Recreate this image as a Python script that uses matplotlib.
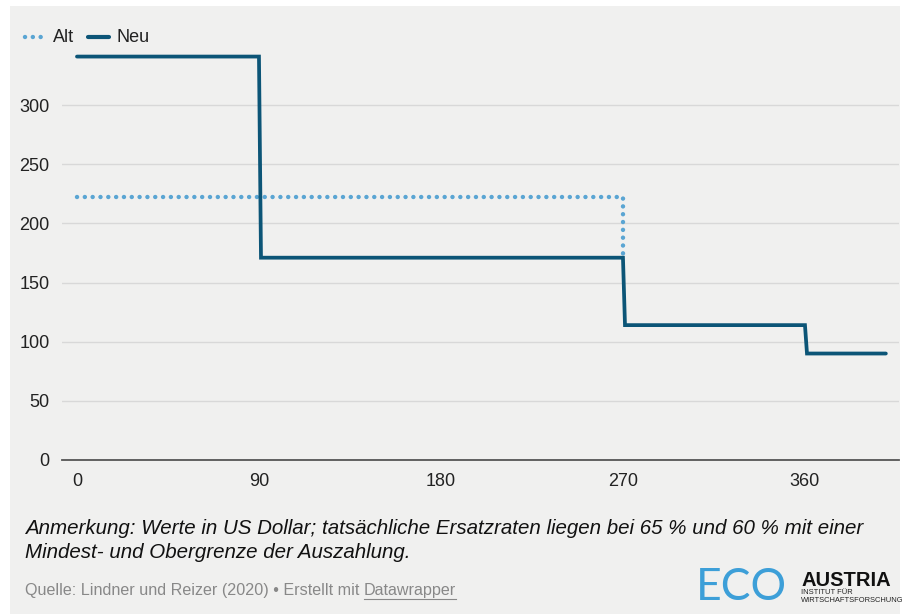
import matplotlib
matplotlib.use("Agg")
from matplotlib import pyplot as plt
from matplotlib.patches import Rectangle
from matplotlib.lines import Line2D

plt.rcParams['font.family'] = ['Liberation Sans', 'DejaVu Sans']

# Tage / Auszahlung
neu_x = [0, 90, 91, 270, 271, 360, 361, 400]
neu_y = [341, 341, 171, 171, 114, 114, 90, 90]
alt_x = [0, 270, 270]
alt_y = [222, 222, 171]
x_ticks = [0, 90, 180, 270, 360]
y_ticks = [0, 50, 100, 150, 200, 250, 300]

BG = '#f0f0ef'
NEU = '#0c5577'
ALT = '#5aa5d3'

fig = plt.figure(figsize=(9.02, 6.14), dpi=100, facecolor='white')
fig.patches.append(Rectangle((10 / 902, 0), 890 / 902, 608 / 614,
                             transform=fig.transFigure, facecolor=BG,
                             edgecolor='none', zorder=-10))

ax = fig.add_axes([62 / 902, 1 - 460 / 614, 837 / 902, 420 / 614])
ax.set_facecolor(BG)
ax.patch.set_alpha(0)

ax.plot(alt_x, alt_y, color=ALT, lw=3.2, linestyle=(0, (0.01, 1.75)),
        dash_capstyle='round', zorder=3)
ax.plot(neu_x, neu_y, color=NEU, lw=2.7, solid_capstyle='round',
        solid_joinstyle='miter', zorder=4)

ax.set_xlim(-7.4, 406.5)
ax.set_ylim(0, 355)
ax.set_xticks(x_ticks)
ax.set_yticks(y_ticks)
ax.tick_params(axis='both', length=0, labelsize=13, colors='#222222')
ax.tick_params(axis='x', pad=9)
ax.tick_params(axis='y', pad=9)
for lab in ax.get_yticklabels():
    lab.set_horizontalalignment('right')
ax.grid(axis='y', color='#d8d8d8', lw=1)
ax.set_axisbelow(True)
for s in ['top', 'right', 'left']:
    ax.spines[s].set_visible(False)
ax.spines['bottom'].set_color('#555555')
ax.spines['bottom'].set_linewidth(1.3)
ax.spines['bottom'].set_zorder(5)

# Legende
fig.add_artist(Line2D([25 / 902, 44 / 902], [1 - 37 / 614] * 2, color=ALT, lw=3.2,
                      linestyle=(0, (0.01, 1.75)), dash_capstyle='round'))
fig.text(53 / 902, 1 - 37 / 614, 'Alt', fontsize=13, va='center', color='#222222')
fig.add_artist(Line2D([88 / 902, 109 / 902], [1 - 37 / 614] * 2, color=NEU, lw=3,
                      solid_capstyle='round'))
fig.text(117 / 902, 1 - 37 / 614, 'Neu', fontsize=13, va='center', color='#222222')

# Anmerkung und Quelle
fig.text(25 / 902, 1 - 529 / 614,
         'Anmerkung: Werte in US Dollar; tatsächliche Ersatzraten liegen bei 65 % und 60 % mit einer',
         fontsize=14.8, style='italic', va='center', color='#111111')
fig.text(25 / 902, 1 - 552 / 614, 'Mindest- und Obergrenze der Auszahlung.',
         fontsize=14.8, style='italic', va='center', color='#111111')
src = fig.text(25 / 902, 1 - 590 / 614,
               'Quelle: Lindner und Reizer (2020) • Erstellt mit ',
               fontsize=11.6, va='center', color='#888888')
fig.canvas.draw()
bb = src.get_window_extent()
dw = fig.text(bb.x1 / 902, 1 - 590 / 614, 'Datawrapper', fontsize=11.6,
              va='center', color='#888888')
bb2 = dw.get_window_extent()
fig.add_artist(Line2D([bb2.x0 / 902, bb2.x1 / 902], [(bb2.y0 - 1) / 614] * 2,
                      color='#888888', lw=0.8))

# Logo
fig.text(696 / 902, 1 - 587 / 614, 'ECO', fontsize=32, va='center',
         color='#3d9fd8', family=['Lato', 'DejaVu Sans'])
fig.text(801 / 902, 1 - 580 / 614, 'AUSTRIA', fontsize=14.5, weight='bold',
         va='center', color='#111111')
fig.text(801 / 902, 1 - 593 / 614, 'INSTITUT FÜR', fontsize=5.4,
         va='center', color='#222222')
fig.text(801 / 902, 1 - 600 / 614, 'WIRTSCHAFTSFORSCHUNG', fontsize=5.4,
         va='center', color='#222222')

fig.savefig('out.png', dpi=100, facecolor='white')
